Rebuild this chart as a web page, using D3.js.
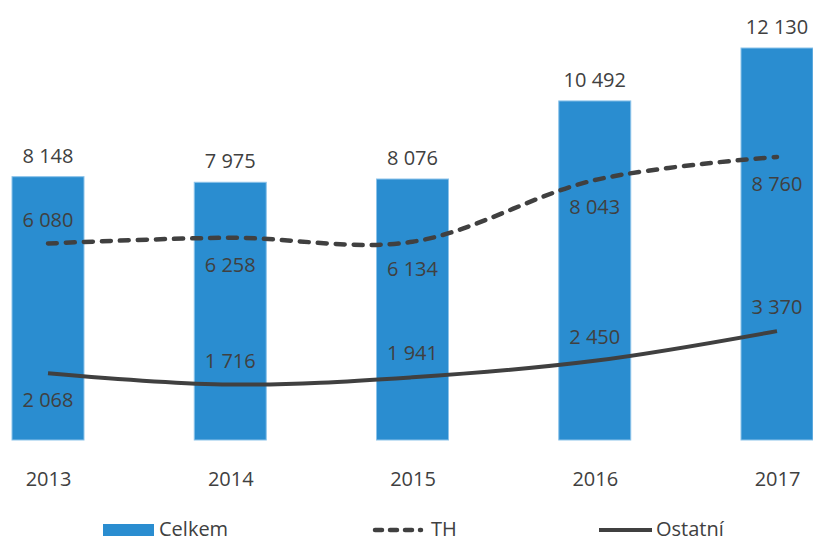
<!DOCTYPE html>
<html><head><meta charset="utf-8">
<script src="https://cdn.jsdelivr.net/npm/d3@7"></script>
<style>body{margin:0;background:#fff}text{font-family:"Open Sans","Noto Sans",sans-serif;fill:#404040}</style>
</head><body>
<svg id="c" width="813" height="542"></svg>
<script>
const years = ["2013","2014","2015","2016","2017"];
const celkem = [8148, 7975, 8076, 10492, 12130];
const th = [6080, 6258, 6134, 8043, 8760];
const ostatni = [2068, 1716, 1941, 2450, 3370];
// label placement: 1 = above, -1 = below
const thPos = [1, -1, -1, -1, -1];
const ostPos = [-1, 1, 1, 1, 1];

const svg = d3.select("#c");
const x = d3.scalePoint().domain(years).range([48, 777]);
const y = d3.scaleLinear().domain([0, 12130]).range([440, 48]);
const bw = 72;
const fmt = v => d3.format(",")(v).replace(/,/g, " ");

svg.selectAll("rect.bar").data(celkem).join("rect")
  .attr("x", (d,i) => x(years[i]) - bw/2).attr("y", d => y(d))
  .attr("width", bw).attr("height", d => y(0) - y(d))
  .attr("fill", "#2a8dd0").attr("stroke", "#8cc3ea").attr("stroke-width", 1);

svg.selectAll("text.cl").data(celkem).join("text")
  .attr("x", (d,i) => x(years[i])).attr("y", d => y(d) - 14)
  .attr("text-anchor", "middle").attr("font-size", 20).text(fmt);

const line = d3.line().x((d,i) => x(years[i])).y(d => y(d)).curve(d3.curveCatmullRom.alpha(0.5));

svg.append("path").datum(th).attr("d", line).attr("fill","none")
  .attr("stroke","#404040").attr("stroke-width",4.5).attr("stroke-linecap","round")
  .attr("stroke-dasharray","9,9");
svg.append("path").datum(ostatni).attr("d", line).attr("fill","none")
  .attr("stroke","#404040").attr("stroke-width",4);

svg.selectAll("text.th").data(th).join("text")
  .attr("x", (d,i) => x(years[i]))
  .attr("y", (d,i) => thPos[i] > 0 ? y(d) - 17 : y(d) + 34)
  .attr("text-anchor","middle").attr("font-size",20).text(fmt);
svg.selectAll("text.os").data(ostatni).join("text")
  .attr("x", (d,i) => x(years[i]))
  .attr("y", (d,i) => ostPos[i] > 0 ? y(d) - 17 : y(d) + 34)
  .attr("text-anchor","middle").attr("font-size",20).text(fmt);

const xa = svg.append("g").attr("transform","translate(0,440)")
  .call(d3.axisBottom(x).tickSize(0).tickPadding(32));
xa.select(".domain").remove();
xa.selectAll("text").attr("font-size",20).style("font-family",'"Open Sans","Noto Sans",sans-serif').attr("fill","#404040");

// legend
const lg = svg.append("g");
lg.append("rect").attr("x",103).attr("y",524).attr("width",51).attr("height",12).attr("fill","#2a8dd0");
lg.append("text").attr("x",159).attr("y",536).attr("font-size",20).text("Celkem");
lg.append("line").attr("x1",375).attr("x2",421).attr("y1",530).attr("y2",530)
  .attr("stroke","#404040").attr("stroke-width",4.5).attr("stroke-linecap","round").attr("stroke-dasharray","7,8");
lg.append("text").attr("x",431).attr("y",536).attr("font-size",20).text("TH");
lg.append("line").attr("x1",599).attr("x2",652).attr("y1",530).attr("y2",530)
  .attr("stroke","#404040").attr("stroke-width",4);
lg.append("text").attr("x",656).attr("y",536).attr("font-size",20).text("Ostatní");
</script>
</body></html>
